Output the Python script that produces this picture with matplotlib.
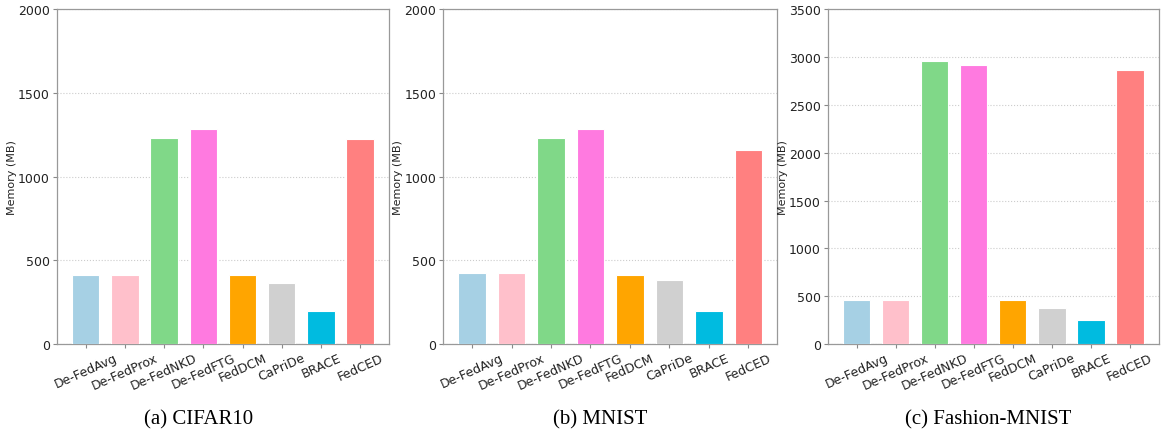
import numpy as np
import matplotlib
matplotlib.use('Agg')
import matplotlib.pyplot as plt

methods = ['De-FedAvg', 'De-FedProx', 'De-FedNKD', 'De-FedFTG', 'FedDCM', 'CaPriDe', 'BRACE', 'FedCED']
colors = ['#a6d0e4', '#ffc0cb', '#80d888', '#ff7ae0', '#ffa500', '#d0d0d0', '#00bbe0', '#ff8080']

# memory usage (MB) per dataset
cifar10 = [412, 412, 1230, 1286, 412, 364, 199, 1224]
mnist = [424, 424, 1228, 1286, 412, 382, 199, 1160]
fmnist = [456, 456, 2957, 2918, 456, 373, 247, 2859]

panels = [
    (cifar10, 2000, '(a) CIFAR10'),
    (mnist, 2000, '(b) MNIST'),
    (fmnist, 3500, '(c) Fashion-MNIST'),
]

fig = plt.figure(figsize=(11.61, 4.39), dpi=100)
lefts = [0.049, 0.3816, 0.713]
widths = [0.286, 0.288, 0.285]
caption_x = [0.171, 0.517, 0.851]

for i, (vals, ymax, cap) in enumerate(panels):
    ax = fig.add_axes([lefts[i], 0.214, widths[i], 0.763])
    x = np.arange(len(methods))
    ax.bar(x, vals, width=0.7, color=colors, edgecolor='white', linewidth=0.8, zorder=3)
    ax.set_ylim(0, ymax)
    ax.set_yticks(np.arange(0, ymax + 1, 500))
    ax.set_xticks(x)
    ax.set_xticklabels(methods, rotation=24, ha='center', fontsize=9, color='#222222')
    ax.tick_params(axis='y', labelsize=9, labelcolor='#222222', color='#888888', length=3, pad=2)
    ax.tick_params(axis='x', color='#888888', length=3, pad=2)
    ax.set_ylabel('Memory (MB)', fontsize=8, color='#222222', labelpad=1)
    ax.grid(axis='y', linestyle=':', color='#cccccc', linewidth=0.8, zorder=0)
    for s in ax.spines.values():
        s.set_color('#999999')
        s.set_linewidth(0.9)
    fig.text(caption_x[i], 0.043, cap, ha='center', va='center',
             fontsize=15, family='Liberation Serif')

fig.savefig('out.png', dpi=100)
